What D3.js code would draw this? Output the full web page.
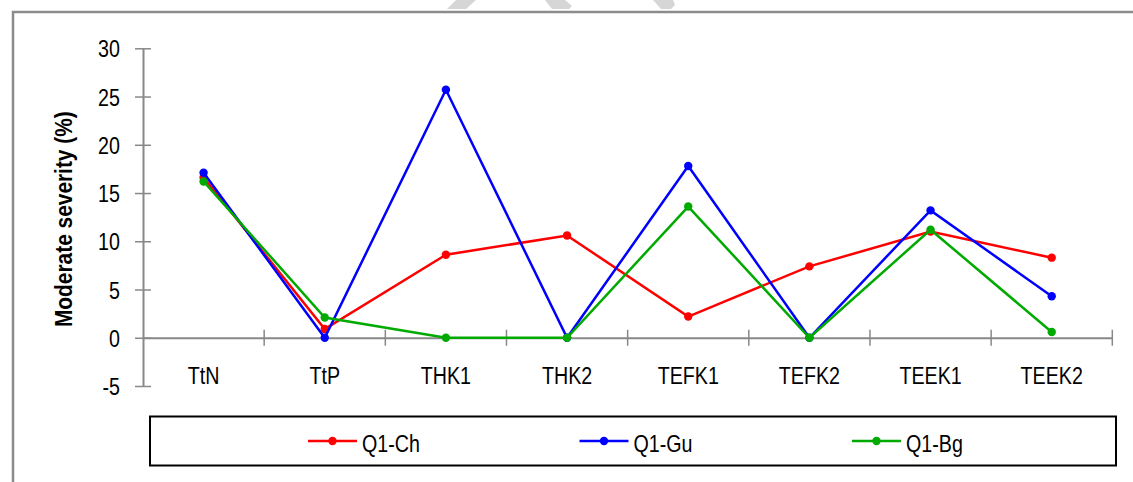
<!DOCTYPE html>
<html>
<head>
<meta charset="utf-8">
<script src="https://cdn.jsdelivr.net/npm/d3@7"></script>
<style>
  html, body { margin: 0; padding: 0; background: #fff; }
  svg { display: block; }
  text { font-family: "Liberation Sans Narrow", "Arial Narrow", "Liberation Sans", Arial, sans-serif; }
</style>
</head>
<body>
<svg id="chart" width="1133" height="482"></svg>
<script>
const categories = ["TtN", "TtP", "THK1", "THK2", "TEFK1", "TEFK2", "TEEK1", "TEEK2"];
const seriesNames = ["Q1-Ch", "Q1-Gu", "Q1-Bg"];
const seriesColors = ["#ff0000", "#0000ff", "#00aa00"];
const valuesCh = [16.6, 0.9, 8.6, 10.6, 2.2, 7.4, 11.0, 8.3];
const valuesGu = [17.1, 0.0, 25.7, 0.0, 17.8, 0.0, 13.2, 4.3];
const valuesBg = [16.2, 2.1, 0.0, 0.0, 13.6, 0.0, 11.2, 0.6];
const yTicks = [-5, 0, 5, 10, 15, 20, 25, 30];
const yTitle = "Moderate severity (%)";

const seriesValues = [valuesCh, valuesGu, valuesBg];
const FS = 24;       // font size
const SX = 0.82;     // horizontal condensing (narrow face)
const FF = "\"Liberation Sans\", Arial, sans-serif";

const svg = d3.select("#chart");

// outer frame (cut off right & bottom)
svg.append("path")
  .attr("d", "M13,490 L13,12 L1140,12")
  .attr("fill", "none").attr("stroke", "#8c8c8c").attr("stroke-width", 2.5);

// faint watermark fragments at top
const wm = [
  "M447,9 L456,0 L476,0 L466,9 Z",
  "M545,0 L565,0 L572,6 L569,9 L552,9 Z",
  "M653,0 L673,0 L675,5 L671,9 L661,9 Z"
];
svg.selectAll("path.wm").data(wm).enter().append("path")
  .attr("class", "wm").attr("d", d => d).attr("fill", "#d6d6d6");

const x = d3.scaleBand().domain(categories).range([143, 1112.3]).padding(0);
const y = d3.scaleLinear().domain([-5, 30]).range([386, 48.3]);
const bw = x.bandwidth();

// Y axis
const yAxis = d3.axisLeft(y).tickValues(yTicks).tickFormat(d => String(d))
  .tickSize(8).tickSizeOuter(0).tickPadding(15);
const yg = svg.append("g").attr("transform", "translate(143,0)").call(yAxis);
yg.select(".domain").attr("stroke", "#888").attr("stroke-width", 2);
yg.selectAll(".tick line").attr("x1", 8).attr("stroke", "#888").attr("stroke-width", 1.5);
yg.selectAll(".tick text").attr("font-size", FS).attr("fill", "#000")
  .style("font-family", FF)
  .attr("x", -23 / SX).attr("dy", "0.36em")
  .attr("transform", `scale(${SX},1)`);

// X axis at y=0
const xAxis = d3.axisBottom(x).tickSize(0).tickSizeOuter(0).tickPadding(29);
const xg = svg.append("g").attr("transform", `translate(0,${y(0)})`).call(xAxis);
xg.select(".domain").attr("stroke", "#888").attr("stroke-width", 2);
xg.selectAll(".tick text").attr("font-size", FS).attr("fill", "#000")
  .style("font-family", FF)
  .attr("transform", `scale(${SX},1)`);
// boundary ticks
xg.selectAll("line.bt").data(categories).enter().append("line")
  .attr("class", "bt")
  .attr("x1", d => x(d) + bw).attr("x2", d => x(d) + bw)
  .attr("y1", -8).attr("y2", 8)
  .attr("stroke", "#888").attr("stroke-width", 1.5);

// Y title
svg.append("text")
  .attr("transform", `translate(72,${(y(30) + y(-5)) / 2 + 2}) rotate(-90) scale(0.87,1)`)
  .attr("text-anchor", "middle")
  .attr("font-size", FS).attr("font-weight", "bold").attr("fill", "#000")
  .style("font-family", FF)
  .text(yTitle);

// series
const line = d3.line().x((d, i) => x(categories[i]) + bw / 2).y(d => y(d));
seriesValues.forEach((vals, si) => {
  const g = svg.append("g");
  g.append("path").datum(vals).attr("d", line)
    .attr("fill", "none").attr("stroke", seriesColors[si]).attr("stroke-width", 2.5)
    .attr("stroke-linejoin", "miter");
  g.selectAll("circle").data(vals).enter().append("circle")
    .attr("cx", (d, i) => x(categories[i]) + bw / 2)
    .attr("cy", d => y(d)).attr("r", 4.2)
    .attr("fill", seriesColors[si]);
});

// legend
const lg = svg.append("g");
lg.append("rect").attr("x", 150).attr("y", 416.5).attr("width", 966).attr("height", 49)
  .attr("fill", "#fff").attr("stroke", "#000").attr("stroke-width", 2);
const legX = [308, 579.5, 852];
seriesNames.forEach((name, si) => {
  const lx = legX[si];
  lg.append("line").attr("x1", lx).attr("x2", lx + 49).attr("y1", 441).attr("y2", 441)
    .attr("stroke", seriesColors[si]).attr("stroke-width", 2.5);
  lg.append("circle").attr("cx", lx + 24.5).attr("cy", 441).attr("r", 4.2).attr("fill", seriesColors[si]);
  lg.append("text").attr("transform", `translate(${lx + 54},451.5) scale(${SX},1)`)
    .attr("font-size", FS).attr("fill", "#000").style("font-family", FF).text(name);
});
</script>
</body>
</html>
